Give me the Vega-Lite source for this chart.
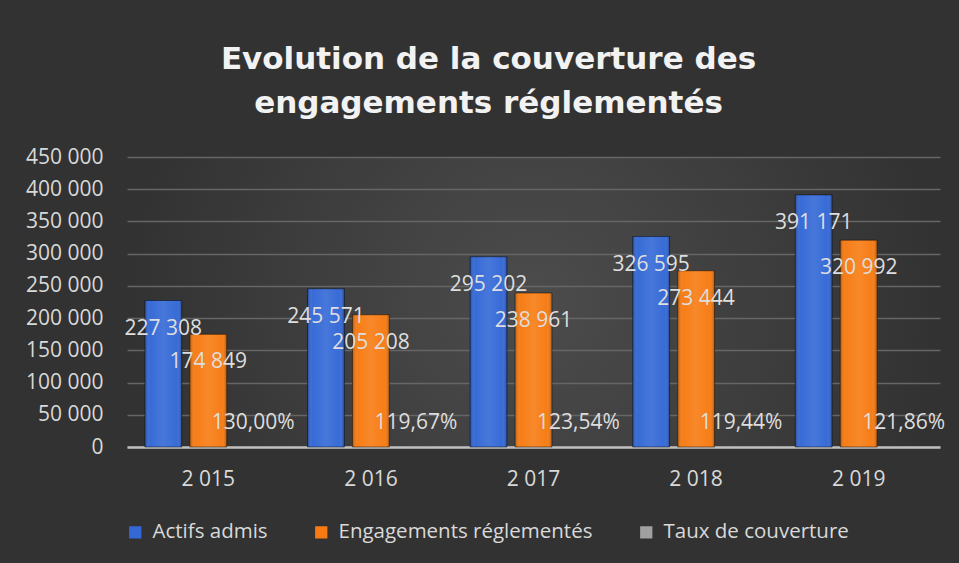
{
  "$schema": "https://vega.github.io/schema/vega-lite/v6.json",
  "width": 813,
  "height": 290,
  "autosize": {"type": "none"},
  "padding": {"left": 127, "top": 157, "right": 19, "bottom": 116},
  "background": "#323232",
  "config": {
    "locale": {"number": {"decimal": ",", "thousands": " ", "grouping": [3], "currency": ["", " €"]}},
    "view": {
      "stroke": null,
      "fill": {"gradient": "radial", "x1": 0.5, "y1": 0.5, "x2": 0.5, "y2": 0.5, "r1": 0, "r2": 0.5,
        "stops": [{"offset": 0, "color": "#4c4c4c"}, {"offset": 1, "color": "#323232"}]}
    },
    "font": "Open Sans"
  },
  "title": {
    "text": ["Evolution de la couverture des", "engagements réglementés"],
    "font": "DejaVu Sans",
    "fontSize": 31,
    "fontWeight": "bold",
    "color": "#f2f2f2",
    "lineHeight": 44,
    "anchor": "middle",
    "dx": -45,
    "offset": 26
  },
  "data": {
    "values": [
      {"year": 2015, "series": "Actifs admis", "value": 227308},
      {"year": 2015, "series": "Engagements réglementés", "value": 174849},
      {"year": 2015, "series": "Taux de couverture", "value": 1.3},
      {"year": 2016, "series": "Actifs admis", "value": 245571},
      {"year": 2016, "series": "Engagements réglementés", "value": 205208},
      {"year": 2016, "series": "Taux de couverture", "value": 1.1967},
      {"year": 2017, "series": "Actifs admis", "value": 295202},
      {"year": 2017, "series": "Engagements réglementés", "value": 238961},
      {"year": 2017, "series": "Taux de couverture", "value": 1.2354},
      {"year": 2018, "series": "Actifs admis", "value": 326595},
      {"year": 2018, "series": "Engagements réglementés", "value": 273444},
      {"year": 2018, "series": "Taux de couverture", "value": 1.1944},
      {"year": 2019, "series": "Actifs admis", "value": 391171},
      {"year": 2019, "series": "Engagements réglementés", "value": 320992},
      {"year": 2019, "series": "Taux de couverture", "value": 1.2186}
    ]
  },
  "encoding": {
    "x": {
      "field": "year", "type": "nominal",
      "scale": {"paddingInner": 0.22, "paddingOuter": 0.11},
      "axis": {
        "title": null, "format": ",d", "formatType": "number", "labelAngle": 0,
        "labelFont": "Open Sans", "labelFontSize": 21, "labelColor": "#d9d9d9",
        "labelPadding": 21, "ticks": false, "tickSize": 0,
        "domainColor": "#bfbfbf", "domainWidth": 2.5, "grid": false
      }
    },
    "xOffset": {
      "field": "series", "type": "nominal",
      "sort": ["Actifs admis", "Engagements réglementés", "Taux de couverture"],
      "scale": {"paddingInner": 0.18, "paddingOuter": 0}
    },
    "y": {
      "field": "value", "type": "quantitative",
      "scale": {"domain": [0, 450000], "nice": false},
      "axis": {
        "title": null, "format": ",d", "values": [0, 50000, 100000, 150000, 200000, 250000, 300000, 350000, 400000, 450000],
        "labelFont": "Open Sans", "labelFontSize": 21, "labelColor": "#d9d9d9",
        "labelPadding": 24, "ticks": false, "tickSize": 0, "domain": false,
        "gridColor": "#666666", "gridWidth": 1.3
      }
    }
  },
  "layer": [
    {
      "mark": {"type": "bar"},
      "encoding": {
        "color": {
          "field": "series", "type": "nominal",
          "sort": ["Actifs admis", "Engagements réglementés", "Taux de couverture"],
          "scale": {"domain": ["Actifs admis", "Engagements réglementés", "Taux de couverture"], "range": ["#3368d6", "#f77b12", "#a0a0a0"]},
          "legend": {
            "title": null, "orient": "none", "direction": "horizontal",
            "legendX": -2, "legendY": 365,
            "labelFont": "Open Sans", "labelFontSize": 20.5, "labelColor": "#d9d9d9",
            "labelLimit": 0,
            "symbolType": "square", "symbolSize": 150, "symbolStrokeWidth": 0,
            "labelOffset": 7, "columnPadding": 43
          }
        }
      }
    },
    {
      "mark": {
        "type": "bar",
        "stroke": "rgba(0,0,0,0.45)", "strokeWidth": 1,
        "fill": {"gradient": "linear", "x1": 0, "y1": 0, "x2": 1, "y2": 0,
          "stops": [
            {"offset": 0, "color": "rgba(0,0,0,0.28)"},
            {"offset": 0.14, "color": "rgba(255,255,255,0.02)"},
            {"offset": 0.5, "color": "rgba(255,255,255,0.1)"},
            {"offset": 0.86, "color": "rgba(255,255,255,0.02)"},
            {"offset": 1, "color": "rgba(0,0,0,0.28)"}
          ]}
      },
      "transform": [{"filter": "datum.series !== 'Taux de couverture'"}]
    },
    {
      "mark": {"type": "text", "font": "Open Sans", "fontSize": 21, "color": "#dedede", "dy": 28, "baseline": "middle"},
      "transform": [{"filter": "datum.series !== 'Taux de couverture'"}],
      "encoding": {"text": {"field": "value", "type": "quantitative", "format": ",d"}}
    },
    {
      "mark": {"type": "text", "font": "Open Sans", "fontSize": 21, "color": "#dedede", "dy": -24, "baseline": "middle"},
      "transform": [{"filter": "datum.series === 'Taux de couverture'"}],
      "encoding": {"text": {"field": "value", "type": "quantitative", "format": ".2%"}}
    }
  ]
}
